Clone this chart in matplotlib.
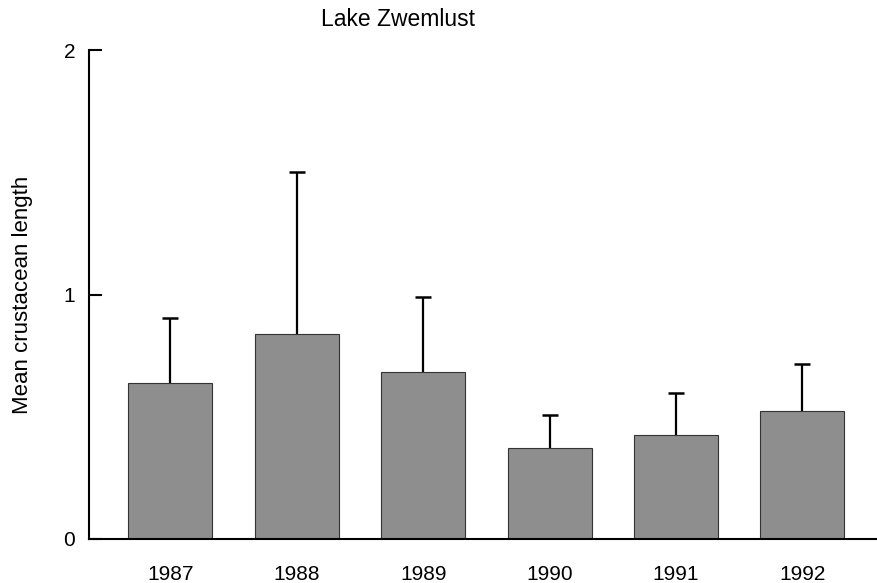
import matplotlib
matplotlib.use("Agg")
import matplotlib.pyplot as plt
import numpy as np

plt.rcParams['font.family'] = ['Liberation Sans', 'DejaVu Sans']

# data
years = ["1987", "1988", "1989", "1990", "1991", "1992"]
means = [0.638, 0.838, 0.683, 0.372, 0.425, 0.524]
upper_err = [0.267, 0.662, 0.307, 0.135, 0.172, 0.192]

fig = plt.figure(figsize=(8.78, 5.83), dpi=100)
ax = fig.add_axes([89 / 878, 1 - 539 / 583, 1 - 89 / 878, (539 - 50) / 583])

x = np.arange(len(years))
tops = np.array(means) + np.array(upper_err)

# upper-only error bars: stem from bar top plus a cap
ax.vlines(x, means, tops, colors="black", linewidth=1.6, zorder=1)
ax.plot(x, tops, linestyle="none", marker="_", markersize=12,
        markeredgewidth=1.8, color="black", zorder=1)
ax.bar(x, means, width=0.665, color="#8e8e8e", edgecolor="#333333", linewidth=0.8, zorder=2)

ax.set_xlim(-0.645, 5.6)
ax.set_ylim(0, 2)
ax.set_yticks([0, 1, 2])
ax.set_yticklabels(["0", "1", "2"], fontsize=15)
ax.set_xticks(x)
ax.set_xticklabels(years, fontsize=15)
ax.tick_params(axis="y", direction="in", length=9, width=1.5, pad=10)
ax.tick_params(axis="x", length=0, pad=19)

for side in ["top", "right"]:
    ax.spines[side].set_visible(False)
ax.spines["left"].set_linewidth(1.5)
ax.spines["bottom"].set_linewidth(1.5)

ax.set_ylabel("Mean crustacean length", fontsize=16, labelpad=22)
fig.text(398 / 878, 1 - 20 / 583, "Lake Zwemlust", ha="center", va="center", fontsize=16.5)

fig.savefig("out.png", dpi=100)
